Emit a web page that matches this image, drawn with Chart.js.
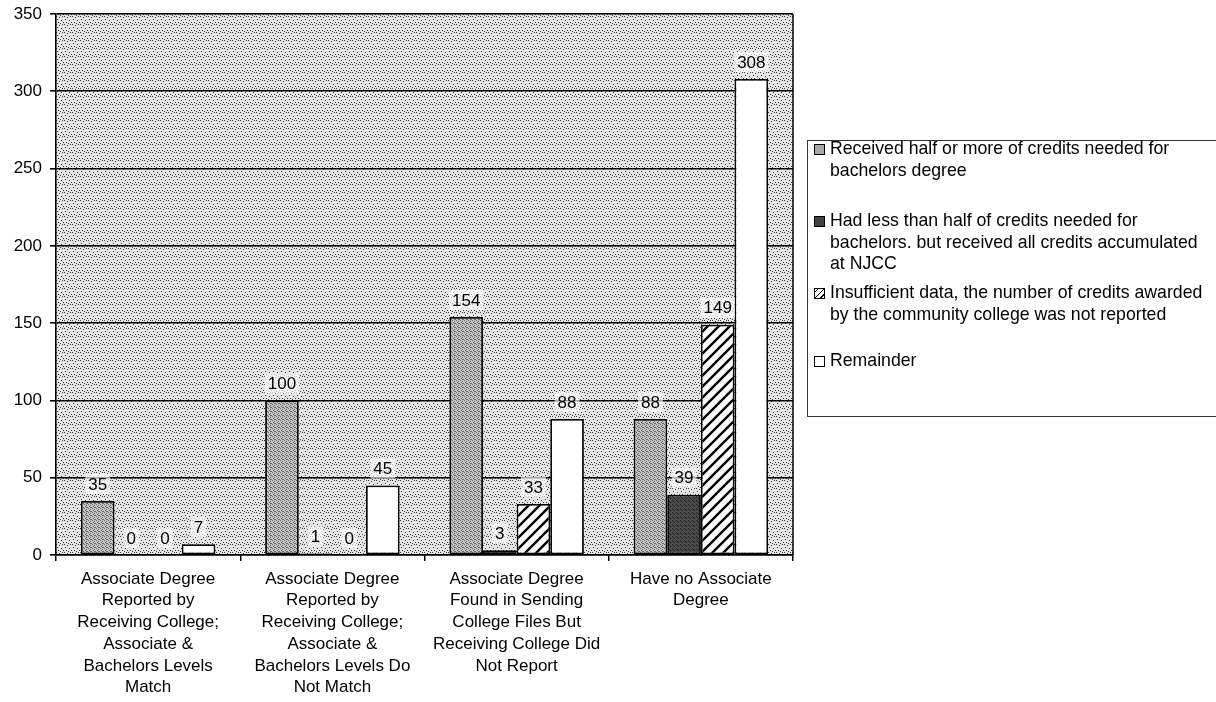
<!DOCTYPE html>
<html>
<head>
<meta charset="utf-8">
<script src="https://cdn.jsdelivr.net/npm/chart.js@4.4.0/dist/chart.umd.min.js"></script>
<style>
  body { margin: 0; background: #fff; font-family: Arial, "Liberation Sans", sans-serif; }
  #wrap { position: relative; width: 1216px; height: 702px; overflow: hidden; }
  #legend { position: absolute; left: 807px; top: 140px; width: 420px; height: 277px;
    border: 1px solid #333; background: #fff; box-sizing: border-box; }
  .item { position: relative; height: 72px; padding-left: 22px; font-size: 17.7px; line-height: 21.5px;
    white-space: nowrap; color: #000; }
  .item:first-child { margin-top: -3px; }
  .item:nth-child(3) { height: 68px; }
  .mark { position: absolute; left: 6px; top: 6px; width: 11px; height: 11px; border: 1px solid #000;
    box-sizing: border-box; }
</style>
</head>
<body>
<div id="wrap">
  <canvas id="myChart" width="1216" height="702"></canvas>
  <div id="legend"></div>
</div>
<script>
var categorias = [
  ['Associate Degree', 'Reported by', 'Receiving College;', 'Associate &', 'Bachelors Levels', 'Match'],
  ['Associate Degree', 'Reported by', 'Receiving College;', 'Associate &', 'Bachelors Levels Do', 'Not Match'],
  ['Associate Degree', 'Found in Sending', 'College Files But', 'Receiving College Did', 'Not Report'],
  ['Have no Associate', 'Degree']
];
var nombres = [
  ['Received half or more of credits needed for', 'bachelors degree'],
  ['Had less than half of credits needed for', 'bachelors. but received all credits accumulated', 'at NJCC'],
  ['Insufficient data, the number of credits awarded', 'by the community college was not reported'],
  ['Remainder']
];
var mitadOMas = [35, 100, 154, 88];
var menosMitad = [0, 1, 3, 39];
var insuficiente = [0, 0, 33, 149];
var resto = [7, 45, 88, 308];
var yMax = 350;
var yPaso = 50;

// patrones de relleno (textura de la imagen escaneada)
function puntos(base, punto, lista, n) {
  var c = document.createElement('canvas');
  c.width = n; c.height = n;
  var g = c.getContext('2d');
  g.fillStyle = base; g.fillRect(0, 0, n, n);
  g.fillStyle = punto;
  lista.forEach(function (p) { g.fillRect(p[0], p[1], 1, 1); });
  return g.createPattern(c, 'repeat');
}
function rayado() {
  var n = 11;
  var c = document.createElement('canvas');
  c.width = n; c.height = n;
  var g = c.getContext('2d');
  g.fillStyle = '#fff'; g.fillRect(0, 0, n, n);
  g.strokeStyle = '#000'; g.lineWidth = 2.4;
  g.beginPath();
  g.moveTo(-2, n + 2); g.lineTo(n + 2, -2);
  g.moveTo(-2, 2); g.lineTo(2, -2);
  g.moveTo(n - 2, n + 2); g.lineTo(n + 2, n - 2);
  g.stroke();
  return g.createPattern(c, 'repeat');
}
var fondo = puntos('#e5e5e5', '#3a3a3a', [[0, 0], [3, 1], [6, 0], [1, 3], [5, 4], [2, 6], [7, 6], [4, 7]], 8);
var gris = puntos('#c4c4c4', '#666', [[0, 0], [2, 1], [1, 2], [3, 3], [2, 3]], 4);
var oscuro = puntos('#4a4a4a', '#222', [[0, 0], [2, 2], [1, 1]], 4);
var blanco = '#ffffff';

var rellenos = [gris, oscuro, rayado(), blanco];
var marcas = ['#a8a8a8', '#444',
  'repeating-linear-gradient(-45deg, #fff 0 2px, #000 2px 3px, #fff 3px 4px)', '#fff'];

var ctx = document.getElementById('myChart');

var fondoPlugin = {
  id: 'fondo',
  beforeDraw: function (chart) {
    var a = chart.chartArea, c = chart.ctx;
    c.save();
    c.fillStyle = fondo;
    c.fillRect(a.left, a.top, a.right - a.left, a.bottom - a.top);
    c.restore();
  },
  afterDatasetsDraw: function (chart) {
    var a = chart.chartArea, c = chart.ctx;
    c.save();
    c.strokeStyle = '#000';
    c.lineWidth = 1.5;
    c.beginPath();
    c.moveTo(a.right, a.top); c.lineTo(a.right, a.bottom);
    c.stroke();
    c.font = '17px Arial, "Liberation Sans", sans-serif';
    c.textAlign = 'center';
    c.textBaseline = 'middle';
    chart.data.datasets.forEach(function (ds, i) {
      chart.getDatasetMeta(i).data.forEach(function (bar, j) {
        var txt = String(ds.data[j]);
        var w = c.measureText(txt).width + 6;
        var y = bar.y - 17;
        c.fillStyle = 'rgba(255,255,255,0.65)';
        c.fillRect(bar.x - w / 2, y - 10, w, 20);
        c.fillStyle = '#000';
        c.fillText(txt, bar.x, y + 1);
      });
    });
    c.restore();
  }
};

var series = [mitadOMas, menosMitad, insuficiente, resto];

var myChart = new Chart(ctx, {
  type: 'bar',
  data: {
    labels: categorias,
    datasets: series.map(function (d, i) {
      return {
        label: nombres[i].join(' '),
        data: d,
        backgroundColor: rellenos[i],
        borderColor: '#000',
        borderWidth: 1.8,
        borderSkipped: false,
        categoryPercentage: 0.73,
        barPercentage: 1.0
      };
    })
  },
  options: {
    responsive: false,
    animation: false,
    layout: { padding: { top: 14, right: 423, left: 0, bottom: 0 } },
    plugins: { legend: { display: false }, tooltip: { enabled: false } },
    scales: {
      x: {
        grid: { drawOnChartArea: false, drawTicks: true, tickLength: 6, color: '#000', lineWidth: 1.5 },
        border: { color: '#000', width: 1.5 },
        ticks: {
          color: '#000', maxRotation: 0, autoSkip: false, padding: 7,
          font: { size: 17, family: 'Arial, "Liberation Sans", sans-serif', lineHeight: 1.28 }
        },
        afterFit: function (s) { s.height = 147; }
      },
      y: {
        min: 0, max: yMax,
        grid: { color: '#000', lineWidth: 1.6, tickLength: 6 },
        border: { color: '#000', width: 1.6 },
        ticks: {
          stepSize: yPaso, color: '#000', padding: 8,
          font: { size: 17, family: 'Arial, "Liberation Sans", sans-serif' }
        },
        afterFit: function (s) { s.width = 56; s.paddingTop = 0; s.paddingBottom = 0; }
      }
    }
  },
  plugins: [fondoPlugin]
});

// leyenda en HTML (el texto va partido como en la imagen)
var leyenda = document.getElementById('legend');
nombres.forEach(function (lineas, i) {
  var d = document.createElement('div');
  d.className = 'item';
  var m = document.createElement('span');
  m.className = 'mark';
  m.style.background = marcas[i];
  d.appendChild(m);
  d.innerHTML += lineas.join('<br>');
  leyenda.appendChild(d);
});
</script>
</body>
</html>
